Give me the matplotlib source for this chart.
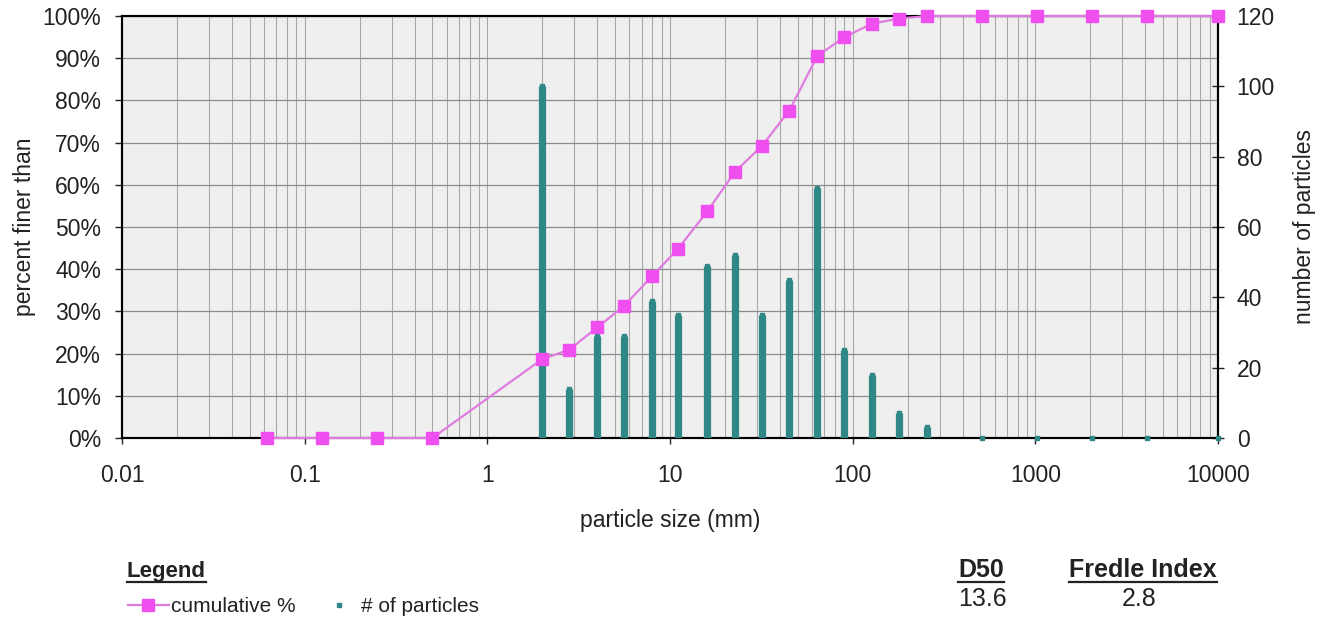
import matplotlib
matplotlib.use("Agg")
import matplotlib.pyplot as plt
from matplotlib.lines import Line2D
from matplotlib.ticker import FixedLocator, FuncFormatter, PercentFormatter, NullFormatter
import numpy as np

plt.rcParams['font.family'] = ['Liberation Sans', 'DejaVu Sans']

# particle sizes (mm)
sizes = [0.0625, 0.125, 0.25, 0.5, 2, 2.8, 4, 5.6, 8, 11, 16, 22.6, 32, 45, 64,
         90, 128, 180, 256, 512, 1024, 2048, 4096, 10000]
# number of particles per size class
counts = [0, 0, 0, 0, 100, 14, 29, 29, 39, 35, 49, 52, 35, 45, 71,
          25, 18, 7, 3, 0, 0, 0, 0, 0]
# cumulative percent finer than
cum_pct = [0, 0, 0, 0, 18.7, 20.9, 26.2, 31.3, 38.4, 44.7, 53.7, 63.0, 69.3, 77.6, 90.5,
           95.0, 98.2, 99.4, 100, 100, 100, 100, 100, 100]

d50 = "13.6"
fredle = "2.8"

teal = '#2f8886'
pink_line = '#e07ce0'
pink_mark = '#f04ff0'
txt = '#222222'
fs = 16.5
W, H = 1326, 626

fig = plt.figure(figsize=(W / 100, H / 100), dpi=100)
rect = [122 / W, 1 - 438 / H, (1218 - 122) / W, (438 - 16) / H]

ax1 = fig.add_axes(rect)
ax1.set_xscale('log')
ax1.set_xlim(0.01, 10000)
ax1.set_ylim(0, 100)
ax1.set_facecolor('#efefef')
ax1.yaxis.set_major_locator(FixedLocator(np.arange(0, 101, 10)))
ax1.yaxis.set_major_formatter(PercentFormatter(100, decimals=0))
ax1.xaxis.set_major_locator(FixedLocator([0.01, 0.1, 1, 10, 100, 1000, 10000]))
ax1.xaxis.set_major_formatter(FuncFormatter(lambda v, p: '%g' % v))
ax1.xaxis.set_minor_formatter(NullFormatter())
ax1.grid(True, which='major', axis='y', color='#8c8c8c', lw=0.9)
ax1.grid(True, which='both', axis='x', color='#a8a8a8', lw=0.8)
ax1.tick_params(axis='x', which='major', length=4, width=1, pad=15, labelsize=fs, colors=txt)
ax1.tick_params(axis='x', which='minor', length=0)
ax1.tick_params(axis='y', length=5, width=1, pad=10, labelsize=fs, colors=txt)
for s in ax1.spines.values():
    s.set_linewidth(1.5)
ax1.set_xlabel('particle size (mm)', fontsize=fs, color=txt, va='center')
ax1.xaxis.set_label_coords(0.5, (438 - 520) / 422)
ax1.set_ylabel('percent finer than', fontsize=fs, color=txt, va='center')
ax1.yaxis.set_label_coords((24 - 122) / 1096, 0.5)

# particle counts on the right axis
ax2 = ax1.twinx()
ax2.set_ylim(0, 120)
ax2.set_yticks(np.arange(0, 121, 20))
ax2.vlines(sizes, 0, counts, colors=teal, lw=5.2, zorder=3)
pts = ax2.plot(sizes, counts, ls='none', marker='s', ms=3.5, color=teal,
               clip_on=False, zorder=4, label='# of particles')[0]
ax2.tick_params(axis='y', direction='inout', length=9, width=1, pad=9, labelsize=fs, colors=txt)
for s in ax2.spines.values():
    s.set_linewidth(1.5)
ax2.set_ylabel('number of particles', fontsize=fs, color=txt, va='center')
ax2.yaxis.set_label_coords((1305 - 122) / 1096, 0.5)

# cumulative curve on top
ax3 = fig.add_axes(rect, sharex=ax1, sharey=ax1)
ax3.patch.set_visible(False)
ax3.axis('off')
line = ax3.plot(sizes, cum_pct, color=pink_line, lw=1.6, marker='s', ms=9,
                mfc=pink_mark, mec=pink_mark, clip_on=False, zorder=5,
                label='cumulative %')[0]

fig.legend(handles=[line, pts], loc='center left', ncol=2, frameon=False,
           bbox_to_anchor=(128 / W, 1 - 607 / H), fontsize=15, handlelength=1.95,
           handletextpad=0.1, columnspacing=1.1, numpoints=1, labelcolor=txt,
           borderaxespad=0, borderpad=0)

heads = [
    fig.text(127 / W, 1 - 577 / H, 'Legend', fontsize=16, weight='bold', color=txt, ha='left', va='baseline'),
    fig.text(981 / W, 1 - 577 / H, 'D50', fontsize=18, weight='bold', color=txt, ha='center', va='baseline'),
    fig.text(1143 / W, 1 - 577 / H, 'Fredle Index', fontsize=18, weight='bold', color=txt, ha='center', va='baseline'),
]
fig.text(982 / W, 1 - 599 / H, d50, fontsize=18, color=txt, ha='center', va='center')
fig.text(1139 / W, 1 - 599 / H, fredle, fontsize=18, color=txt, ha='center', va='center')

# underline the headings
fig.canvas.draw()
r = fig.canvas.get_renderer()
for t in heads:
    bb = t.get_window_extent(renderer=r)
    y = (H - 582) / H
    fig.add_artist(Line2D([bb.x0 / W, bb.x1 / W], [y, y], color=txt, lw=1.6,
                          transform=fig.transFigure))

fig.savefig('out.png', dpi=100)
